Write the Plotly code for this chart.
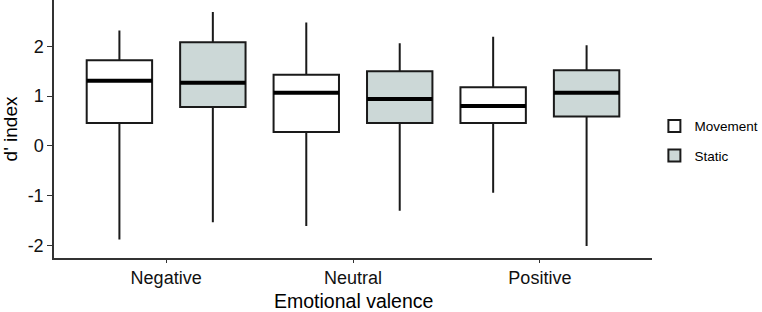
import plotly.graph_objects as go

categories = ["Negative", "Neutral", "Positive"]
groups = ["Movement", "Static"]
x_title = "Emotional valence"
y_title = "d' index"

# five-number summaries per group (per category)
movement_low = [-1.88, -1.61, -0.94]
movement_q1 = [0.46, 0.28, 0.46]
movement_med = [1.31, 1.07, 0.80]
movement_q3 = [1.72, 1.43, 1.18]
movement_high = [2.32, 2.48, 2.19]

static_low = [-1.53, -1.30, -2.01]
static_q1 = [0.78, 0.46, 0.59]
static_med = [1.27, 0.94, 1.07]
static_q3 = [2.08, 1.50, 1.52]
static_high = [2.69, 2.06, 2.02]

fills = {"Movement": "#FFFFFF", "Static": "#CCD8D7"}
offsets = {"Movement": -0.25, "Static": 0.25}
box_w = 0.35

data = {
    "Movement": (movement_low, movement_q1, movement_med, movement_q3, movement_high),
    "Static": (static_low, static_q1, static_med, static_q3, static_high),
}

fig = go.Figure()
for gi, g in enumerate(groups):
    low, q1, med, q3, high = data[g]
    xs = [i + offsets[g] for i in range(len(categories))]
    fig.add_trace(go.Box(
        name=g, x=xs, q1=q1, median=med, q3=q3,
        lowerfence=low, upperfence=high,
        width=box_w, whiskerwidth=0,
        fillcolor=fills[g],
        line=dict(color="#1a1a1a", width=2),
        legendgroup=g, showlegend=True,
        hoverinfo="skip",
    ))
    # thicker median bars
    mx, my = [], []
    for x, m in zip(xs, med):
        mx += [x - box_w / 2, x + box_w / 2, None]
        my += [m, m, None]
    fig.add_trace(go.Scatter(
        x=mx, y=my, mode="lines",
        line=dict(color="#000000", width=4),
        showlegend=False, legendgroup=g, hoverinfo="skip",
    ))

fig.update_layout(
    width=762, height=312,
    margin=dict(l=54, r=110, t=0, b=54, autoexpand=False),
    paper_bgcolor="white", plot_bgcolor="white",
    font=dict(family="Liberation Sans, Arial, sans-serif", color="#000000"),
    showlegend=True,
    legend=dict(
        x=1.004, xanchor="left", y=0.453, yanchor="middle",
        font=dict(size=13.5, color="#000000"),
        traceorder="grouped", tracegroupgap=9,
        bgcolor="rgba(0,0,0,0)",
    ),
    annotations=[dict(
        text=x_title, xref="paper", yref="paper", x=0.5, y=0,
        xanchor="center", yanchor="top", yshift=-30, showarrow=False,
        font=dict(size=19.5, color="#000000"),
    )],
)
fig.update_xaxes(
    range=[-0.6, 2.6], automargin=False,
    tickmode="array", tickvals=list(range(len(categories))), ticktext=categories,
    showline=True, linecolor="#333333", linewidth=1.5,
    ticks="outside", ticklen=3, tickwidth=1.2, tickcolor="#333333",
    showgrid=False, zeroline=False,
    tickfont=dict(size=18, color="#111111"),
)
fig.update_yaxes(
    range=[-2.25, 2.93], automargin=False,
    tickmode="array", tickvals=[-2, -1, 0, 1, 2], ticktext=["-2", "-1", "0", "1", "2"],
    showline=True, linecolor="#333333", linewidth=1.5,
    ticks="outside", ticklen=5, tickwidth=1.2, tickcolor="#333333",
    showgrid=False, zeroline=False,
    tickfont=dict(size=18, color="#111111"),
    title=dict(text=y_title, font=dict(size=19), standoff=6),
)

fig.write_html("out.html")
